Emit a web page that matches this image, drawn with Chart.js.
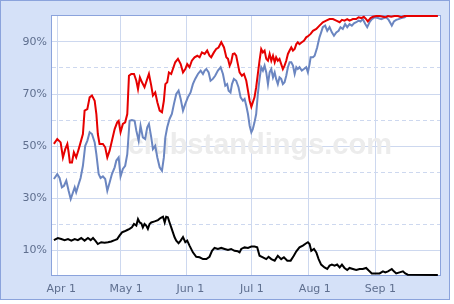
<!DOCTYPE html>
<html><head><meta charset="utf-8">
<script src="https://cdn.jsdelivr.net/npm/chart.js@4.4.1/dist/chart.umd.min.js"></script>
<style>html,body{margin:0;padding:0;background:#fff;overflow:hidden}canvas{display:block}</style>
</head><body>
<canvas id="c" width="454" height="304"></canvas>
<script>
// ---- data ----
const monthLabels = ['Apr 1','May 1','Jun 1','Jul 1','Aug 1','Sep 1'];
const monthGridDays = [2.9,33.3,64.7,95.6,122.7,154.5];
const monthLabelDays = [4.9,35.8,66.3,95.6,125.5,156.7];
const yLabelTicks = [10,30,50,70,90];
const yDashTicks = [20,40,60,80];

const redDays = [1.4,3.0,4.6,5.7,6.8,7.8,8.4,9.0,10.0,10.9,12.0,13.2,14.1,15.2,16.0,17.3,18.4,19.5,20.8,21.6,
22.3,23.1,24.7,25.8,26.8,27.9,29.0,30.3,31.5,32.2,33.1,34.2,35.3,36.3,37.1,38.2,39.5,40.6,41.4,42.3,
43.3,44.5,45.8,46.6,47.7,48.5,49.6,50.6,51.7,52.8,53.7,54.4,55.3,56.1,57.2,58.0,59.1,60.4,
61.7,62.8,63.9,64.8,65.9,67.0,68.3,69.6,70.7,71.8,73.1,74.3,75.4,76.2,77.5,78.6,79.7,81.0,82.3,83.4,
84.2,85.0,85.7,86.5,87.3,88.1,88.9,89.7,90.8,91.8,92.9,93.7,94.5,95.3,96.0,96.8,97.6,98.4,99.2,100.0,
100.8,101.6,102.4,103.2,104.0,104.8,105.6,106.4,107.1,107.9,108.7,109.5,110.3,111.1,111.9,112.7,113.5,114.3,115.1,115.9,
116.7,117.4,118.2,119.3,120.3,121.4,
122.5,123.5,124.6,126.2,127.7,129.3,130.9,132.5,134.1,135.7,137.3,138.4,139.6,140.9,142.0,143.6,145.2,146.3,147.6,148.8,
149.9,150.7,152.0,153.1,154.7,156.3,157.9,159.0,160.3,161.8,163.4,165.0,166.6,168.2,184.0];
const redVals = [50.8,52.7,51.4,45.6,48.8,50.8,47.6,43.7,43.7,47.6,45.6,48.8,51.4,54.6,63.6,64.2,68.7,69.4,67.4,62.3,
54.6,50.8,50.8,49.5,45.6,48.2,52.0,56.5,59.1,59.7,55.3,58.5,59.1,62.3,77.0,77.7,77.7,75.1,71.9,76.4,
74.5,72.6,75.8,77.7,73.2,69.4,70.6,66.8,63.6,63.0,67.4,73.8,74.5,78.3,77.7,79.6,82.2,83.5,
81.5,78.3,79.6,81.5,80.3,82.8,84.1,84.7,84.1,86.0,85.4,86.7,84.7,84.1,86.0,87.3,87.9,89.9,87.9,84.1,
83.5,80.9,82.2,85.4,85.6,84.7,81.5,78.3,77.0,77.7,75.1,71.3,67.4,65.1,66.8,68.7,72.6,77.7,82.8,87.3,
86.0,86.7,83.5,82.8,85.4,82.8,84.7,82.2,84.1,82.8,83.5,81.5,79.6,80.9,82.8,85.4,86.7,87.9,86.7,87.3,
89.2,89.9,89.2,89.9,90.5,91.8,
92.4,93.1,94.3,95.0,96.3,97.6,98.2,98.8,98.8,98.2,97.6,98.5,98.2,98.8,98.2,98.8,98.8,99.5,99.2,99.7,
98.8,97.9,99.2,99.7,100,100,99.7,99.5,100,99.7,100,100,99.5,100,100];

const blueDays = [1.4,3.0,4.1,5.2,6.2,7.3,8.4,9.4,10.5,11.3,12.0,13.2,14.1,15.2,16.3,17.3,18.4,19.5,20.8,21.6,
22.7,23.6,24.7,25.8,26.8,27.9,29.0,30.3,31.1,32.2,33.1,34.2,35.3,36.3,37.4,38.5,39.8,40.6,41.7,42.6,
43.7,44.8,45.8,46.6,47.7,48.5,49.6,50.6,51.7,52.8,53.7,54.4,55.3,56.4,57.5,58.5,59.6,60.7,
61.7,62.8,63.9,65.1,66.4,67.5,68.6,69.9,71.2,72.3,73.1,73.9,75.0,75.9,77.0,78.1,79.4,80.7,81.8,82.9,
83.8,84.5,85.4,86.1,87.0,88.1,89.2,90.2,91.3,92.1,92.9,93.7,94.5,95.3,96.0,96.8,97.6,98.4,99.2,100.0,
100.8,101.6,102.4,103.2,104.0,104.8,105.6,106.4,107.1,107.9,108.7,109.5,110.3,111.1,111.9,112.7,113.5,114.3,115.1,115.9,
116.7,117.4,118.2,119.3,120.3,121.4,122.2,123.0,123.5,124.6,125.4,126.6,127.7,128.5,129.3,130.4,131.4,132.5,133.6,134.6,
135.7,136.8,137.7,138.8,139.9,140.9,142.0,143.1,144.1,145.2,146.3,147.2,148.3,149.5,150.4,151.5,152.6,153.9,155.5,157.1,
158.3,159.4,160.6,161.5,162.1,163.1,164.2,165.3,166.6,168.2,169.0,184.0];
const blueVals = [37.3,39.2,37.7,34.1,34.7,36.7,32.8,29.6,32.2,34.1,32.2,35.4,37.7,42.4,50.1,52.0,55.3,54.6,51.4,46.9,
39.2,37.7,38.3,37.3,32.8,36.0,39.2,41.8,44.4,45.6,38.3,41.2,42.4,46.9,59.7,60.0,59.7,55.9,52.0,57.8,
53.3,52.7,57.2,58.5,53.3,48.8,50.1,45.6,41.8,40.5,45.6,53.3,57.2,60.4,62.3,66.2,70.0,71.3,
68.1,63.6,66.2,68.7,70.6,73.8,75.8,77.7,79.0,77.7,79.0,79.6,78.3,75.1,75.8,77.0,79.0,80.3,77.7,73.2,
73.8,71.3,70.6,73.8,75.8,75.1,72.6,68.7,67.4,68.1,65.5,62.3,57.8,55.3,56.5,59.1,62.3,70.0,75.8,80.3,
79.0,80.9,78.3,73.8,78.3,79.6,76.4,78.3,75.8,73.8,76.4,75.8,73.8,74.5,77.0,80.3,82.2,82.2,80.9,77.7,
80.3,79.6,80.3,79.0,79.6,80.3,78.3,81.5,84.1,84.1,84.7,87.9,91.8,93.7,95.7,96.3,94.3,95.7,93.7,92.4,
93.7,94.3,95.7,95.0,96.9,95.7,96.9,96.3,97.2,97.6,98.2,97.9,98.8,96.9,95.7,97.6,98.8,99.5,99.2,98.8,
99.2,99.5,98.5,97.2,96.3,97.9,98.5,98.8,99.2,99.5,100,100];

const blackDays = [1.4,3.3,4.9,6.5,8.1,9.7,11.3,12.8,14.4,16.0,17.6,18.9,20.0,21.1,22.3,23.9,25.5,27.1,28.7,30.3,
31.5,32.6,33.8,35.0,36.3,37.4,38.5,39.5,40.6,41.4,42.2,43.0,43.7,44.5,45.3,46.1,46.9,47.7,49.3,50.9,
52.1,53.3,54.1,54.8,55.6,56.4,57.2,58.0,58.8,59.6,60.7,61.7,62.8,63.9,64.8,65.9,67.5,69.1,70.7,72.3,
73.9,75.4,76.6,77.8,79.4,81.0,82.6,84.2,85.7,87.3,88.9,89.7,90.5,92.1,93.7,95.3,96.8,98.1,99.2,100.8,
102.4,103.5,104.8,106.4,107.9,109.5,110.8,112.4,114.0,115.5,116.7,118.2,119.8,121.4,122.2,123.0,123.8,125.1,126.2,127.3,
128.5,130.1,131.4,132.5,133.6,134.9,136.1,137.3,138.4,139.6,140.9,142.0,143.6,145.2,146.8,148.3,149.9,151.0,152.6,154.7,
156.3,157.9,159.0,160.3,162.1,163.1,164.2,165.8,167.4,168.5,169.7,184.0];
const blackVals = [13.8,14.6,14.2,13.8,14.2,13.6,14.2,13.8,14.6,13.6,14.6,13.8,14.6,13.6,12.3,13.0,12.8,13.0,13.3,13.8,
14.2,15.5,16.8,17.2,17.7,18.1,18.7,20.0,19.4,21.9,20.6,20.2,18.7,20.0,19.4,18.1,20.0,20.6,21.0,21.5,
22.3,22.8,20.6,22.8,22.6,20.6,18.7,16.8,14.9,13.6,12.6,13.6,15.0,13.0,13.6,11.7,9.1,7.4,7.2,6.5,
6.5,7.4,9.7,10.8,10.4,10.8,10.4,10.0,10.4,9.7,9.5,9.1,10.4,11.0,10.8,11.3,11.3,11.0,7.8,7.2,
6.5,7.4,6.5,5.9,7.8,6.5,7.2,5.9,5.9,7.8,9.5,11.0,11.7,12.6,13.0,12.3,9.7,10.4,9.1,6.5,
4.4,3.3,2.7,4.0,4.4,4.0,4.4,3.3,4.4,3.1,2.3,3.1,2.7,2.3,2.7,2.7,3.1,2.2,1.0,1.0,
1.0,1.8,1.4,1.8,2.7,1.8,1.0,1.4,1.8,1.0,0.5,0.4];

// ---- chart ----
const pts = (xs, ys) => xs.map((x, i) => ({x: x, y: ys[i]}));
const GRID = '#cdd8ef';
const TXT = '#5f6f8f';
const FONT = {family: '"DejaVu Sans", Verdana, sans-serif', size: 11};

const frame = {
  id: 'frame',
  beforeDraw(chart) {
    const c = chart.ctx, a = chart.chartArea;
    c.save();
    c.fillStyle = '#fff'; c.fillRect(0, 0, 454, 304);
    c.fillStyle = '#d5e1f8'; c.fillRect(0, 0, 450, 300);
    c.strokeStyle = '#8ba3dc'; c.lineWidth = 1; c.strokeRect(0.5, 0.5, 449, 299);
    c.fillStyle = '#fff'; c.fillRect(a.left, a.top, a.right - a.left, a.bottom - a.top);
    c.restore();
  },
  beforeDatasetsDraw(chart) {
    const c = chart.ctx, a = chart.chartArea;
    c.save();
    c.font = 'bold 29px "Liberation Sans", Arial, sans-serif';
    c.fillStyle = '#ececec';
    c.textAlign = 'right'; c.textBaseline = 'alphabetic';
    c.fillText('clubstandings.com', 392, 154);
    c.strokeStyle = '#8ba3dc'; c.lineWidth = 1;
    c.strokeRect(a.left - 0.5, a.top - 0.5, a.right - a.left, a.bottom - a.top);
    c.restore();
  }
};

new Chart(document.getElementById('c'), {
  type: 'line',
  data: {
    datasets: [
      {data: pts(redDays, redVals), borderColor: '#e60000', borderWidth: 2, pointRadius: 0, tension: 0, clip: false},
      {data: pts(blueDays, blueVals), borderColor: '#6b86c1', borderWidth: 2, pointRadius: 0, tension: 0, clip: false},
      {data: pts(blackDays, blackVals), borderColor: '#000000', borderWidth: 2, pointRadius: 0, tension: 0, clip: false}
    ]
  },
  options: {
    responsive: false,
    animation: false,
    layout: {padding: {top: 16, right: 13, bottom: 0, left: 0}},
    plugins: {legend: {display: false}, tooltip: {enabled: false}},
    scales: {
      x: {
        type: 'linear', position: 'bottom', min: 0.5, max: 185.5,
        afterBuildTicks: s => { s.ticks = monthGridDays.map(v => ({value: v})); },
        ticks: {display: false},
        grid: {color: GRID, drawTicks: false},
        border: {display: false},
        afterFit: s => { s.height = 0; }
      },
      xl: {
        type: 'linear', position: 'bottom', min: 0.5, max: 185.5,
        afterBuildTicks: s => { s.ticks = monthLabelDays.map(v => ({value: v})); },
        ticks: {callback: (v, i) => monthLabels[i], color: TXT, font: FONT, padding: 7, autoSkip: false, maxRotation: 0},
        grid: {display: false, drawTicks: false},
        border: {display: false},
        afterFit: s => { s.height = 28; }
      },
      y: {
        type: 'linear', position: 'left', min: 0, max: 100,
        afterBuildTicks: s => { s.ticks = yLabelTicks.map(v => ({value: v})); },
        ticks: {callback: v => v + '%', color: TXT, font: FONT, padding: 5},
        grid: {color: GRID, drawTicks: false},
        border: {display: false},
        afterFit: s => { s.width = 52; }
      },
      y2: {
        type: 'linear', position: 'left', min: 0, max: 100,
        afterBuildTicks: s => { s.ticks = yDashTicks.map(v => ({value: v})); },
        ticks: {display: false},
        grid: {color: GRID, drawTicks: false},
        border: {display: false, dash: [4, 3]},
        afterFit: s => { s.width = 0; }
      }
    }
  },
  plugins: [frame]
});
</script>
</body></html>
